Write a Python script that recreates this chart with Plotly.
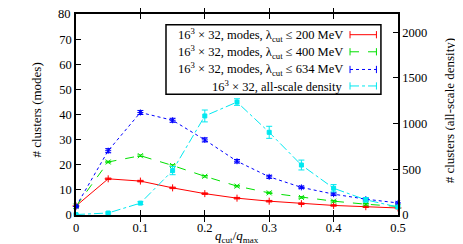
import plotly.graph_objects as go

x = [0, 0.05, 0.1, 0.15, 0.2, 0.25, 0.3, 0.35, 0.4, 0.45, 0.5]
red = [3.6, 14.4, 13.5, 10.8, 8.5, 6.7, 5.5, 4.5, 3.8, 3.3, 2.8]
red_err = [0.3] * 11
green = [3.5, 21.1, 23.6, 19.7, 15.4, 11.5, 8.8, 7.0, 5.5, 4.3, 3.4]
green_err = [0.3] * 11
blue = [3.4, 25.6, 40.8, 37.7, 29.9, 21.4, 15.2, 11.0, 8.3, 6.3, 4.8]
blue_err = [0.5, 0.8, 0.8, 0.8, 0.8, 0.7, 0.6, 0.5, 0.5, 0.4, 0.4]
cyan = [5, 22, 130, 486, 1084, 1236, 905, 547, 293, 166, 87]
cyan_err = [5, 10, 15, 45, 65, 36, 66, 54, 40, 25, 12]

x_ticks = [0, 0.1, 0.2, 0.3, 0.4, 0.5]
x_ticklabels = ["0", "0.1", "0.2", "0.3", "0.4", "0.5"]
y_ticks = [0, 10, 20, 30, 40, 50, 60, 70, 80]
y_ticklabels = ["0", "10", "20", "30", "40", "50", "60", "70", ""]
y_top_label = "80"
y2_ticks = [0, 500, 1000, 1500, 2000]

labels = [
    "16<sup>3</sup> × 32, modes, λ<sub>cut</sub> ≤ 200 MeV",
    "16<sup>3</sup> × 32, modes, λ<sub>cut</sub> ≤ 400 MeV",
    "16<sup>3</sup> × 32, modes, λ<sub>cut</sub> ≤ 634 MeV",
    "16<sup>3</sup> × 32, all-scale density",
]
colors = ["#ff0000", "#00e000", "#0000ff", "#00e8f0"]
dashes = ["solid", "dash", "dot", "dashdot"]
symbols = ["cross-thin-open", "x-thin-open", "asterisk-open", "square"]

FONT = "Liberation Serif"
FS = 12.5
fig = go.Figure()
series = [(red, red_err, "y"), (green, green_err, "y"), (blue, blue_err, "y"), (cyan, cyan_err, "y2")]
for i, (ys, es, ax) in enumerate(series):
    fig.add_trace(go.Scatter(
        x=x, y=ys, yaxis=ax, mode="lines+markers",
        line=dict(color=colors[i], width=1, dash=dashes[i]),
        marker=dict(symbol=symbols[i], size=5 if i < 3 else 4, color=colors[i],
                    line=dict(color=colors[i], width=1)),
        error_y=dict(type="data", array=es, color=colors[i], thickness=1, width=3),
        showlegend=False, cliponaxis=False,
    ))

# manual legend (gnuplot style: text right-aligned, sample on the right)
x0, x1 = 0.2795, 0.947
fig.add_shape(type="rect", xref="paper", yref="paper", x0=x0, x1=x1, y0=0.601, y1=0.946,
              line=dict(color="black", width=1.5), fillcolor="white", layer="above")
rows = [0.897, 0.812, 0.724, 0.642]
for i, lab in enumerate(labels):
    fig.add_annotation(xref="paper", yref="paper", x=0.835, y=rows[i], text=lab,
                       showarrow=False, xanchor="right", yanchor="middle",
                       font=dict(family=FONT, size=FS, color="black"))
    fig.add_shape(type="line", xref="paper", yref="paper", x0=0.851, x1=0.933,
                  y0=rows[i], y1=rows[i], line=dict(color=colors[i], width=1, dash=dashes[i]),
                  layer="above")
    for xe in (0.851, 0.933):
        fig.add_shape(type="line", xref="paper", yref="paper", x0=xe, x1=xe,
                      y0=rows[i] - 0.018, y1=rows[i] + 0.018,
                      line=dict(color=colors[i], width=1), layer="above")

# top left tick label (kept as annotation so it is not dropped at the edge)
fig.add_annotation(xref="paper", yref="y", x=0, y=y_ticks[-1], xshift=-3, text=y_top_label,
                   showarrow=False, xanchor="right", yanchor="middle",
                   font=dict(family=FONT, size=FS, color="black"))

# axis titles
fig.add_annotation(xref="paper", yref="paper", x=0.5, y=-0.105,
                   text="<i>q</i><sub>cut</sub>/<i>q</i><sub>max</sub>", showarrow=False,
                   xanchor="center", yanchor="middle", font=dict(family=FONT, size=13, color="black"))
fig.add_annotation(xref="paper", yref="paper", x=-0.124, y=0.52, textangle=-90,
                   text="# clusters (modes)", showarrow=False,
                   xanchor="center", yanchor="middle", font=dict(family=FONT, size=13, color="black"))
fig.add_annotation(xref="paper", yref="paper", x=1.161, y=0.52, textangle=-90,
                   text="# clusters (all-scale density)", showarrow=False,
                   xanchor="center", yanchor="middle", font=dict(family=FONT, size=13, color="black"))

axis_common = dict(showline=True, linecolor="black", linewidth=1.5, ticks="inside",
                   ticklen=5, tickcolor="black", showgrid=False, zeroline=False,
                   tickfont=dict(family=FONT, size=FS, color="black"))
fig.update_layout(
    width=463, height=244,
    margin=dict(l=68, r=73, t=4, b=37),
    paper_bgcolor="white", plot_bgcolor="white",
    xaxis=dict(range=[0, 0.5], tickvals=x_ticks, ticktext=x_ticklabels, mirror="allticks",
               **axis_common),
    yaxis=dict(range=[0, 80], tickvals=y_ticks, ticktext=y_ticklabels, mirror=True, **axis_common),
    yaxis2=dict(range=[0, 2200], tickvals=y2_ticks, overlaying="y", side="right",
                **axis_common),
)
fig.write_html("out.html")
